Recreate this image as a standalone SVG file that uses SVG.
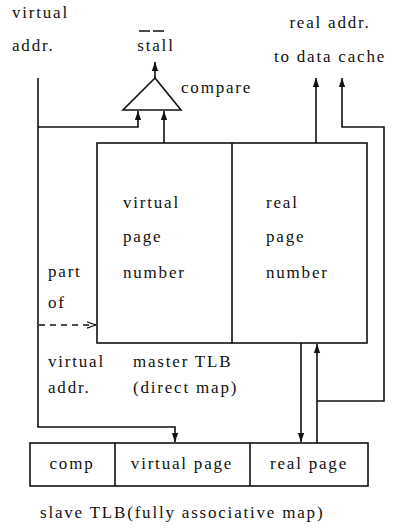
<svg xmlns="http://www.w3.org/2000/svg" width="414" height="529" viewBox="0 0 414 529">
<style>
text{font-family:"Liberation Serif","Times New Roman",serif;font-size:17px;letter-spacing:1.8px;fill:#111}
.c{text-anchor:middle}
.box{fill:none;stroke:#111;stroke-width:1.6}
.ln{fill:none;stroke:#111;stroke-width:1.6}
.dash{fill:none;stroke:#111;stroke-width:1.3;stroke-dasharray:6 5}
</style>
<defs>
<marker id="ah" viewBox="0 0 10 10" refX="10" refY="5" markerWidth="9" markerHeight="9" markerUnits="userSpaceOnUse" orient="auto">
<path d="M0,1.5 L10,5 L0,8.5 Z" fill="#111"/>
</marker>
<marker id="oa" viewBox="0 0 10 10" refX="10" refY="5" markerWidth="9" markerHeight="9" markerUnits="userSpaceOnUse" orient="auto">
<path d="M0,1.5 L10,5 L0,8.5" fill="none" stroke="#111" stroke-width="1.3"/>
</marker>
</defs>
<rect width="414" height="529" fill="#fff"/>

<g id="labels">
<text x="12" y="18">virtual</text>
<text x="12" y="51">addr.</text>
<text x="330" y="28" class="c">real addr.</text>
<text x="330" y="62" class="c">to data cache</text>
<text x="48" y="277">part</text>
<text x="48" y="308">of</text>
<text x="48" y="367">virtual</text>
<text x="48" y="393">addr.</text>
</g>

<g id="compare">
<polygon points="155,78 123,110 181,110" class="box"/>
<text x="181" y="93">compare</text>
<text x="156" y="51" class="c">stall</text>
<line x1="139" y1="31" x2="164" y2="31" stroke="#111" stroke-width="1.3" stroke-dasharray="11 3"/>
</g>

<g id="master">
<rect x="97" y="143" width="270" height="200" class="box"/>
<line x1="232" y1="143" x2="232" y2="343" class="box"/>
<text x="123" y="208">virtual</text>
<text x="123" y="242">page</text>
<text x="123" y="278">number</text>
<text x="266" y="208">real</text>
<text x="266" y="242">page</text>
<text x="266" y="278">number</text>
<text x="133" y="367">master TLB</text>
<text x="133" y="393">(direct map)</text>
</g>

<g id="slave">
<rect x="30" y="443" width="338" height="43" class="box"/>
<line x1="115" y1="443" x2="115" y2="486" class="box"/>
<line x1="250" y1="443" x2="250" y2="486" class="box"/>
<text x="72" y="469" class="c">comp</text>
<text x="182" y="469" class="c">virtual page</text>
<text x="309" y="469" class="c">real page</text>
<text x="40" y="518">slave TLB(fully associative map)</text>
</g>

<g id="connectors">
<path d="M38 78 V427 H175 V442" class="ln" marker-end="url(#ah)"/>
<path d="M38 127 H138 V111" class="ln" marker-end="url(#ah)"/>
<path d="M164 143 V111" class="ln" marker-end="url(#ah)"/>
<path d="M155 78 V62" class="ln" marker-end="url(#ah)"/>
<path d="M39 325 H96" class="dash" marker-end="url(#oa)"/>
<path d="M316 143 V78" class="ln" marker-end="url(#ah)"/>
<path d="M317 443 V344" class="ln" marker-end="url(#ah)"/>
<path d="M317 401 H384 V127 H342 V78" class="ln" marker-end="url(#ah)"/>
<path d="M301 343 V442" class="ln" marker-end="url(#ah)"/>
</g>
</svg>
